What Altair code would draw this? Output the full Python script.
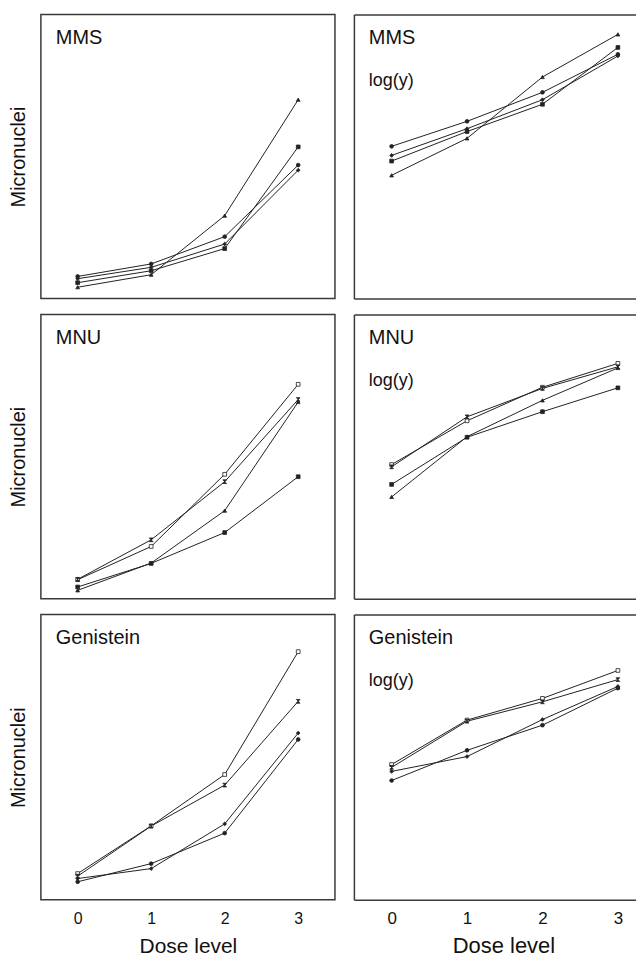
import altair as alt
import pandas as pd

DOSES = [0, 1, 2, 3]
Y_TITLE = "Micronuclei"
X_TITLE = "Dose level"
LOG_LABEL = "log(y)"

# ---- MMS (linear scale) ----
mms_triangle = [2.0, 4.2, 14.6, 35.0]
mms_circle = [3.9, 6.1, 10.9, 23.5]
mms_diamond = [3.5, 5.5, 9.6, 22.6]
mms_square = [2.8, 4.9, 8.8, 26.7]
# ---- MMS (log scale) ----
mms_log_triangle = [2.17, 2.82, 3.90, 4.65]
mms_log_circle = [2.68, 3.12, 3.63, 4.30]
mms_log_diamond = [2.52, 2.99, 3.50, 4.27]
mms_log_square = [2.42, 2.94, 3.42, 4.42]

# ---- MNU (linear scale) ----
mnu_open_square = [3.33, 9.18, 21.88, 37.72]
mnu_bowtie = [3.4, 10.35, 20.58, 35.04]
mnu_triangle = [1.46, 6.26, 15.49, 34.61]
mnu_square = [2.05, 6.2, 11.63, 21.46]
# ---- MNU (log scale) ----
mnu_log_open_square = [2.36, 3.13, 3.72, 4.14]
mnu_log_bowtie = [2.32, 3.20, 3.70, 4.08]
mnu_log_triangle = [1.79, 2.85, 3.49, 4.06]
mnu_log_square = [2.01, 2.84, 3.29, 3.71]

# ---- Genistein (linear scale) ----
gen_open_square = [4.58, 12.94, 21.95, 43.50]
gen_bowtie = [4.13, 12.9, 20.09, 34.79]
gen_diamond = [3.71, 5.45, 13.29, 29.22]
gen_circle = [3.14, 6.32, 11.67, 28.10]
# ---- Genistein (log scale) ----
gen_log_open_square = [2.37, 3.15, 3.53, 4.02]
gen_log_bowtie = [2.32, 3.13, 3.47, 3.86]
gen_log_diamond = [2.25, 2.51, 3.16, 3.74]
gen_log_circle = [2.09, 2.62, 3.06, 3.71]

BOWTIE = "M-1,-1L1,-1L-1,1L1,1Z"
MARKER_KEYS = ["triangle", "square", "open_square", "circle", "diamond", "bowtie"]
MARKER_SHAPES = ["triangle-up", "square", "square", "circle", "diamond", BOWTIE]
MARKER_FILLS = ["#222222", "#222222", "#ffffff", "#222222", "#222222", "#222222"]

FONT = "Liberation Sans"
INK = "#222222"
FRAME = "#3a3a3a"
RIGHT_W = 283


def make_df(series):
    rows = []
    for key, vals in series.items():
        for d, v in zip(DOSES, vals):
            rows.append({"dose": d, "value": v, "marker": key})
    return pd.DataFrame(rows)


def panel(name, series, log, show_x, width, height):
    df = make_df(series)
    ydom = [0, 5] if log else [0, 50]
    # right-hand panels run off the page edge, so their x range is cut short
    xdom = [-0.5, 3.24] if log else [-0.5, 3.5]
    if show_x:
        extra = {"titleX": 150} if log else {}
        xaxis = alt.Axis(
            values=DOSES, format="d", title=X_TITLE, grid=False, ticks=False,
            domain=log, domainColor=FRAME, domainWidth=1.5,
            labelPadding=11, labelFontSize=17 if log else 16,
            titleFontSize=22 if log else 21, titlePadding=9,
            titleFontWeight="normal", labelColor="#111", titleColor="#111",
            labelFont=FONT, titleFont=FONT, **extra,
        )
    elif log:
        xaxis = alt.Axis(labels=False, ticks=False, grid=False, title=None,
                         domain=True, domainColor=FRAME, domainWidth=1.5)
    else:
        xaxis = None
    if log:
        yaxis = alt.Axis(labels=False, ticks=False, grid=False, title=None,
                         domain=True, domainColor=FRAME, domainWidth=1.5)
    else:
        yaxis = alt.Axis(
            title=Y_TITLE, labels=False, ticks=False, domain=False, grid=False,
            titleFontSize=20, titlePadding=12, titleFontWeight="normal",
            titleColor="#111", titleFont=FONT,
        )
    xs = alt.Scale(domain=xdom, nice=False, zero=False)
    x = alt.X("dose:Q", scale=xs, axis=xaxis)
    y = alt.Y("value:Q", scale=alt.Scale(domain=ydom, nice=False, zero=False), axis=yaxis)
    base = alt.Chart(df)
    lines = base.mark_line(color=INK, strokeWidth=1).encode(
        x=x, y=y, detail="marker:N", order="dose:Q"
    )
    if log:
        xtop = alt.X("dose:Q", scale=xs, axis=alt.Axis(
            orient="top", labels=False, ticks=False, grid=False, title=None,
            domain=True, domainColor=FRAME, domainWidth=1.5))
    else:
        xtop = x
    points = base.mark_point(size=14, strokeWidth=0.8, stroke=INK, opacity=1).encode(
        x=xtop, y=y,
        shape=alt.Shape("marker:N", scale=alt.Scale(domain=MARKER_KEYS, range=MARKER_SHAPES), legend=None),
        fill=alt.Fill("marker:N", scale=alt.Scale(domain=MARKER_KEYS, range=MARKER_FILLS), legend=None),
    )
    label = alt.Chart(pd.DataFrame({"t": [name]})).mark_text(
        align="left", baseline="alphabetic", fontSize=20, font=FONT, color="#111"
    ).encode(text="t:N", x=alt.value(15), y=alt.value(30))
    layers = [lines, points, label]
    if log:
        loglab = alt.Chart(pd.DataFrame({"t": [LOG_LABEL]})).mark_text(
            align="left", baseline="alphabetic", fontSize=18, font=FONT, color="#111"
        ).encode(text="t:N", x=alt.value(15), y=alt.value(72))
        layers.append(loglab)
    chart = alt.layer(*layers).properties(width=width, height=height)
    if log:
        chart = chart.resolve_axis(x="independent").properties(
            view=alt.ViewBackground(strokeOpacity=0)
        )
    return chart


rows_spec = [
    ("MMS",
     {"triangle": mms_triangle, "circle": mms_circle, "diamond": mms_diamond, "square": mms_square},
     {"triangle": mms_log_triangle, "circle": mms_log_circle, "diamond": mms_log_diamond, "square": mms_log_square}),
    ("MNU",
     {"open_square": mnu_open_square, "bowtie": mnu_bowtie, "triangle": mnu_triangle, "square": mnu_square},
     {"open_square": mnu_log_open_square, "bowtie": mnu_log_bowtie, "triangle": mnu_log_triangle, "square": mnu_log_square}),
    ("Genistein",
     {"open_square": gen_open_square, "bowtie": gen_bowtie, "diamond": gen_diamond, "circle": gen_circle},
     {"open_square": gen_log_open_square, "bowtie": gen_log_bowtie, "diamond": gen_log_diamond, "circle": gen_log_circle}),
]

rows = []
for i, (name, lin, lg) in enumerate(rows_spec):
    bottom = i == len(rows_spec) - 1
    h = 286 if bottom else 285
    left = panel(name, lin, False, bottom, 295, h)
    right = panel(name, lg, True, bottom, RIGHT_W, h)
    rows.append(alt.hconcat(left, right, spacing=18))

chart = alt.vconcat(*rows, spacing=14).properties(
    padding={"left": 0, "top": 4, "right": 0, "bottom": 0}
).configure(font=FONT, background="white").configure_view(
    stroke=FRAME, strokeWidth=1.5
)

chart.save("out.html", embed_options={"renderer": "svg", "actions": False})
